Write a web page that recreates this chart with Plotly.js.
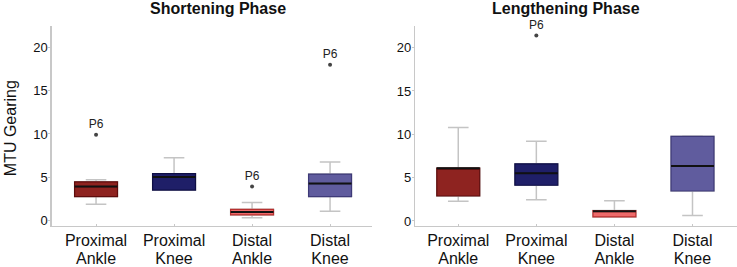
<!DOCTYPE html>
<html>
<head>
<meta charset="utf-8">
<script src="https://cdn.plot.ly/plotly-3.0.1.min.js"></script>
<style>html,body{margin:0;padding:0;background:#fff;}#chart{width:737px;height:267px;}</style>
</head>
<body>
<div id="chart"></div>
<script>
// ---- data ----
const categories = ["Proximal Ankle", "Proximal Knee", "Distal Ankle", "Distal Knee"];
const labelLine1 = ["Proximal", "Proximal", "Distal", "Distal"];
const labelLine2 = ["Ankle", "Knee", "Ankle", "Knee"];
const panelTitles = ["Shortening Phase", "Lengthening Phase"];
const yTitle = "MTU Gearing";
const yTickVals = [0, 5, 10, 15, 20];

// Shortening phase box statistics
const shortLower  = [1.85, 3.5, 0.3, 1.05];
const shortQ1     = [2.75, 3.5, 0.62, 2.75];
const shortMedian = [3.9, 5.0, 0.96, 4.25];
const shortQ3     = [4.45, 5.4, 1.27, 5.35];
const shortUpper  = [4.7, 7.25, 2.05, 6.75];
const shortOutX   = ["Proximal Ankle", "Distal Ankle", "Distal Knee"];
const shortOutY   = [9.9, 3.9, 18.0];
const shortOutLbl = ["P6", "P6", "P6"];

// Lengthening phase box statistics
const longLower  = [2.27, 2.45, 0.47, 0.62];
const longQ1     = [2.88, 4.12, 0.47, 3.46];
const longMedian = [6.07, 5.5, 1.12, 6.34];
const longQ3     = [6.1, 6.6, 1.2, 9.77];
const longUpper  = [10.8, 9.2, 2.34, 9.8];
const longOutX   = ["Proximal Knee"];
const longOutY   = [21.4];
const longOutLbl = ["P6"];

// ---- styles ----
const fillColors = ["#8e2320", "#1f1f68", "#ee6a6a", "#605c9e"];
const edgeColors = ["#5e0c0c", "#0e0e45", "#b8302f", "#3e3a78"];
const whiskerColor = "#c4c4c4";
const axisColor = "#c8c8c8";
const BW = 0.55, WW = 0.48;
const font = "Liberation Sans, Arial, sans-serif";

function panelTraces(lower, q1, med, q3, upper, outX, outY, outLbl, xa, ya, xaLine2) {
  const tr = [];
  tr.push({type: "box", x: categories, q1: q1, median: med, q3: q3, lowerfence: lower, upperfence: upper,
    xaxis: xa, yaxis: ya, width: BW, whiskerwidth: WW, boxpoints: false,
    fillcolor: "rgba(0,0,0,0)", line: {color: whiskerColor, width: 1.5}, showlegend: false, hoverinfo: "skip"});
  for (let i = 0; i < categories.length; i++) {
    tr.push({type: "box", x: [categories[i]], q1: [q1[i]], median: [med[i]], q3: [q3[i]],
      lowerfence: [q1[i]], upperfence: [q3[i]], xaxis: xa, yaxis: ya, width: BW, whiskerwidth: 0,
      boxpoints: false, fillcolor: fillColors[i], line: {color: edgeColors[i], width: 1.2},
      showlegend: false, hoverinfo: "skip"});
  }
  tr.push({type: "box", x: categories, q1: med, median: med, q3: med, lowerfence: med, upperfence: med,
    xaxis: xa, yaxis: ya, width: BW, whiskerwidth: 0, boxpoints: false,
    fillcolor: "rgba(0,0,0,0)", line: {color: "#111", width: 2}, showlegend: false, hoverinfo: "skip"});
  tr.push({type: "scatter", mode: "markers+text", x: outX, y: outY, text: outLbl, textposition: "top center",
    textfont: {family: font, size: 12, color: "#222"}, marker: {size: 4, color: "#444"},
    xaxis: xa, yaxis: ya, showlegend: false, hoverinfo: "skip", cliponaxis: false});
  // empty helper trace so the second-line label axis gets drawn
  tr.push({type: "scatter", mode: "none", x: [], y: [], xaxis: xaLine2, yaxis: ya,
    showlegend: false, hoverinfo: "skip"});
  return tr;
}

const data = [].concat(
  panelTraces(shortLower, shortQ1, shortMedian, shortQ3, shortUpper, shortOutX, shortOutY, shortOutLbl, "x", "y", "x3"),
  panelTraces(longLower, longQ1, longMedian, longQ3, longUpper, longOutX, longOutY, longOutLbl, "x2", "y2", "x4")
);

function xAxis(domain, range, anchor) {
  return {domain: domain, range: range, type: "category", categoryarray: categories, anchor: anchor,
    tickmode: "array", tickvals: categories, ticktext: labelLine1,
    showline: true, linecolor: axisColor, linewidth: 1.2, ticks: "inside", ticklen: 2, tickcolor: axisColor,
    showgrid: false, zeroline: false, tickfont: {family: font, size: 16, color: "#111"}};
}
function xAxisLine2(domain, range, anchor, over) {
  return {domain: domain, range: range, type: "linear", anchor: anchor, overlaying: over,
    tickmode: "array", tickvals: [0, 1, 2, 3], ticktext: labelLine2, ticklabelstandoff: 21,
    showline: false, ticks: "", showgrid: false, zeroline: false,
    tickfont: {family: font, size: 16, color: "#111"}};
}
function yAxis(domain, range, anchor) {
  return {domain: domain, range: range, anchor: anchor, showline: true, linecolor: axisColor, linewidth: 1.2,
    ticks: "outside", ticklen: 2, tickcolor: axisColor, tickvals: yTickVals, showgrid: false, zeroline: false,
    ticklabelstandoff: -2, tickfont: {family: font, size: 13, color: "#111"}};
}

const xr1 = [-0.57, 3.54], xr2 = [-0.555, 3.57];
const xd1 = [0.070, 0.505], xd2 = [0.563, 1.0];
const yd = [0.1536, 0.9026];

const layout = {
  width: 737, height: 267, margin: {l: 0, r: 0, t: 0, b: 0},
  paper_bgcolor: "#fff", plot_bgcolor: "#fff", boxmode: "overlay", showlegend: false,
  font: {family: font},
  xaxis: xAxis(xd1, xr1, "y"),
  yaxis: yAxis(yd, [-0.66, 22.5], "x"),
  xaxis2: xAxis(xd2, xr2, "y2"),
  yaxis2: yAxis(yd, [-0.58, 22.5], "x2"),
  xaxis3: xAxisLine2(xd1, xr1, "y", "x"),
  xaxis4: xAxisLine2(xd2, xr2, "y2", "x2"),
  annotations: [
    {text: "<b>" + panelTitles[0] + "</b>", xref: "paper", yref: "paper", x: 0.296, y: 0.969,
      showarrow: false, font: {family: font, size: 16, color: "#111"}, xanchor: "center", yanchor: "middle"},
    {text: "<b>" + panelTitles[1] + "</b>", xref: "paper", yref: "paper", x: 0.768, y: 0.969,
      showarrow: false, font: {family: font, size: 16, color: "#111"}, xanchor: "center", yanchor: "middle"},
    {text: yTitle, xref: "paper", yref: "paper", x: 0.0136, y: 0.52, textangle: -90,
      showarrow: false, font: {family: font, size: 16, color: "#111"}, xanchor: "center", yanchor: "middle"}
  ]
};

Plotly.newPlot("chart", data, layout, {staticPlot: true, displayModeBar: false});
</script>
</body>
</html>
